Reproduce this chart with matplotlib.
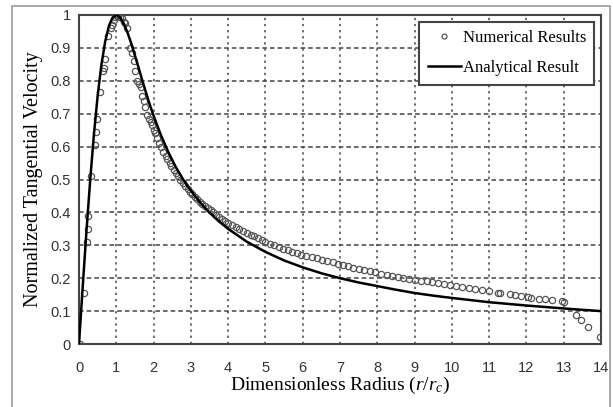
import matplotlib
matplotlib.use("Agg")
import matplotlib.pyplot as plt
from matplotlib.patches import Rectangle

plt.rcParams['mathtext.fontset'] = 'custom'
plt.rcParams['mathtext.it'] = 'Liberation Serif:italic'
plt.rcParams['mathtext.rm'] = 'Liberation Serif'

# Analytical profile
r_ana = [0, 0.1, 0.2, 0.3, 0.4, 0.5, 0.6, 0.7, 0.8, 0.9, 1.0, 1.1, 1.2, 1.3,
         1.4, 1.5, 1.6, 1.7, 1.8, 1.9, 2.0, 2.2, 2.4, 2.6, 2.8, 3.0, 3.25,
         3.5, 3.75, 4.0, 4.5, 5.0, 5.5, 6.0, 6.5, 7.0, 7.5, 8.0, 8.5, 9.0,
         9.5, 10.0, 11.0, 12.0, 13.0, 14.0]
v_ana = [0, 0.175, 0.343, 0.498, 0.637, 0.754, 0.848, 0.918, 0.966, 0.992,
         1.0, 0.993, 0.974, 0.947, 0.914, 0.877, 0.839, 0.800, 0.763, 0.727,
         0.694, 0.634, 0.582, 0.537, 0.499, 0.466, 0.430, 0.399, 0.373, 0.350,
         0.311, 0.280, 0.254, 0.233, 0.215, 0.200, 0.187, 0.176, 0.165, 0.155,
         0.147, 0.140, 0.127, 0.117, 0.108, 0.100]

# Numerical results (open circles)
r_num = [0.03, 0.13, 0.21, 0.23, 0.25, 0.32, 0.43, 0.45, 0.47, 0.57, 0.64,
         0.66, 0.70, 0.79, 0.85, 0.88, 0.93, 0.97, 1.00, 1.02, 1.05, 1.10,
         1.15, 1.20, 1.24, 1.28, 1.38, 1.42, 1.47, 1.51, 1.56, 1.60, 1.65,
         1.69, 1.73, 1.78, 1.83, 1.88, 1.92, 1.96, 2.01, 2.05, 2.10, 2.15,
         2.20, 2.26, 2.32, 2.37, 2.43, 2.48, 2.54, 2.60, 2.66, 2.72, 2.78,
         2.84, 2.91, 2.97, 3.04, 3.10, 3.17, 3.24, 3.31, 3.38, 3.45, 3.53,
         3.60, 3.68, 3.76, 3.84, 3.92, 4.00, 4.10, 4.20, 4.30, 4.40, 4.50,
         4.60, 4.70, 4.80, 4.90, 5.00, 5.12, 5.24, 5.36, 5.48, 5.60, 5.72,
         5.84, 5.96, 6.10, 6.24, 6.38, 6.52, 6.66, 6.80, 6.94, 7.08, 7.22,
         7.36, 7.50, 7.65, 7.80, 7.95, 8.10, 8.25, 8.40, 8.55, 8.70, 8.85,
         9.00, 9.16, 9.32, 9.48, 9.64, 9.80, 9.96, 10.12, 10.28, 10.45,
         10.62, 10.80, 11.00, 11.25, 11.30, 11.55, 11.70, 11.85, 12.05,
         12.12, 12.35, 12.50, 12.68, 12.95, 13.02, 13.33, 13.47, 13.65, 13.98]
v_num = [0.0, 0.155, 0.31, 0.35, 0.39, 0.51, 0.605, 0.645, 0.685, 0.765, 0.83,
         0.84, 0.865, 0.935, 0.96, 0.97, 0.985, 0.995, 1.0, 1.0, 0.998, 0.995,
         0.99, 0.98, 0.975, 0.96, 0.90, 0.885, 0.86, 0.83, 0.80, 0.79, 0.78,
         0.755, 0.74, 0.72, 0.695, 0.685, 0.675, 0.665, 0.65, 0.64, 0.625,
         0.612, 0.60, 0.585, 0.572, 0.562, 0.55, 0.54, 0.53, 0.52, 0.51, 0.50,
         0.49, 0.48, 0.47, 0.462, 0.455, 0.447, 0.44, 0.433, 0.426, 0.42,
         0.413, 0.406, 0.40, 0.393, 0.386, 0.38, 0.374, 0.368, 0.362, 0.356,
         0.350, 0.344, 0.338, 0.332, 0.327, 0.321, 0.316, 0.311, 0.305, 0.300,
         0.295, 0.290, 0.285, 0.281, 0.276, 0.272, 0.268, 0.264, 0.260, 0.256,
         0.252, 0.248, 0.244, 0.240, 0.236, 0.232, 0.228, 0.224, 0.221, 0.218,
         0.214, 0.211, 0.208, 0.205, 0.202, 0.199, 0.196, 0.193, 0.190, 0.187,
         0.184, 0.181, 0.178, 0.175, 0.172, 0.169, 0.166, 0.163, 0.160, 0.156,
         0.155, 0.151, 0.148, 0.146, 0.142, 0.141, 0.138, 0.136, 0.135, 0.131,
         0.129, 0.088, 0.073, 0.053, 0.022]

x_ticks = list(range(0, 15))
y_ticks = [0, 0.1, 0.2, 0.3, 0.4, 0.5, 0.6, 0.7, 0.8, 0.9, 1.0]
y_tick_labels = ['0', '0.1', '0.2', '0.3', '0.4', '0.5', '0.6', '0.7', '0.8', '0.9', '1']

fig = plt.figure(figsize=(6.13, 4.07), dpi=100)
ax = fig.add_axes([79 / 613, 63 / 407, 522 / 613, 329 / 407])

ax.plot(r_num, v_num, 'o', mfc='none', mec='#555555', ms=4.5, mew=0.9,
        label='Numerical Results', zorder=3)
ax.plot(r_ana, v_ana, '-', color='black', lw=1.8, label='Analytical Result', zorder=4)

ax.set_xlim(0, 14)
ax.set_ylim(0, 1)
ax.set_xticks(x_ticks)
ax.set_yticks(y_ticks)
ax.set_yticklabels(y_tick_labels)
ax.tick_params(length=0, labelsize=10.5, labelcolor='#333333', pad=6,
               labelfontfamily='Liberation Sans')
ax.tick_params(axis='x', pad=12)

ax.xaxis.grid(True, linestyle=(0, (1.5, 2.5)), color='#444444', lw=1.1)
ax.yaxis.grid(True, linestyle=(0, (3, 2)), color='#444444', lw=1.1)
for s in ax.spines.values():
    s.set_color('#444444')
    s.set_linewidth(1.5)

ax.set_xlabel('Dimensionless Radius ($r$/$r_c$)', family='Liberation Serif',
              fontsize=14, labelpad=0)
ax.set_ylabel('Normalized Tangential Velocity', family='Liberation Serif',
              fontsize=14.5, labelpad=5)

leg = ax.legend(loc='upper right', prop={'family': 'Liberation Serif', 'size': 12},
                fancybox=False, framealpha=1, edgecolor='#444444',
                borderaxespad=0.4, handlelength=2.0, handletextpad=0.1,
                borderpad=0.5, labelspacing=0.85, markerscale=0.8)
leg.get_frame().set_linewidth(1.5)

fig.add_artist(Rectangle((12 / 613, -0.1), 598 / 613, 1.1 - 6 / 407,
                         transform=fig.transFigure, fill=False,
                         edgecolor='#999999', lw=1.2))

fig.savefig('out.png', dpi=100)
